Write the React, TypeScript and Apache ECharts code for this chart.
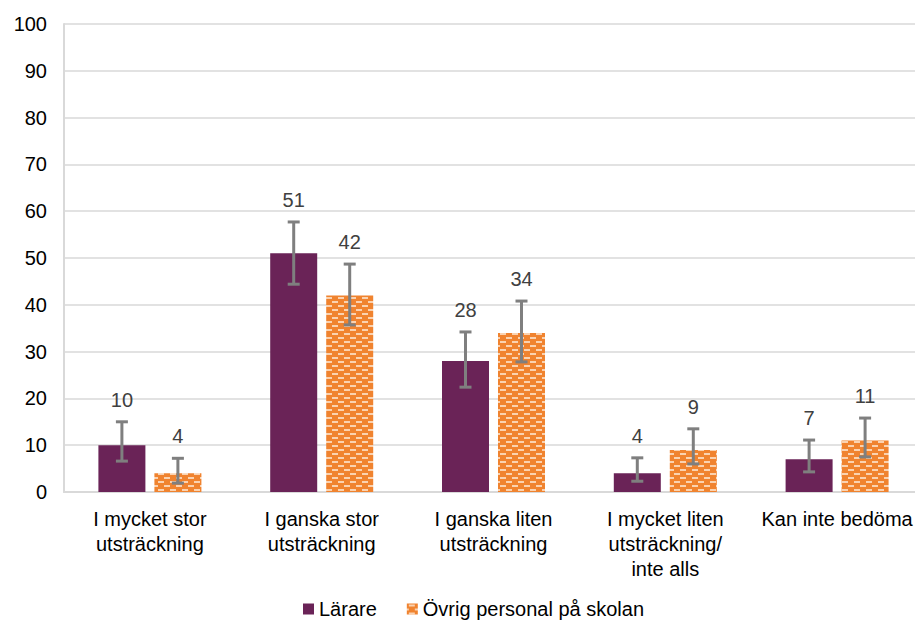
import React, { useEffect, useRef } from "react";
import * as echarts from "echarts";

const categories = [
  "I mycket stor\nutsträckning",
  "I ganska stor\nutsträckning",
  "I ganska liten\nutsträckning",
  "I mycket liten\nutsträckning/\ninte alls",
  "Kan inte bedöma",
];
const seriesNames = ["Lärare", "Övrig personal på skolan"];
const lararValues = [10, 51, 28, 4, 7];
const ovrigValues = [4, 42, 34, 9, 11];
const lararLow = [6.6, 44.4, 22.4, 2.3, 4.3];
const lararHigh = [15, 57.7, 34.2, 7.3, 11.1];
const ovrigLow = [1.9, 35.7, 27.8, 6, 7.5];
const ovrigHigh = [7.2, 48.7, 40.8, 13.5, 15.8];
const yTicks = { min: 0, max: 100, interval: 10 };

const PURPLE = "#6A2357";
const ORANGE = "#F0832F";
const BAR_W = 47;
const BAR_GAP = 9;
const FONT = "Liberation Sans, Arial, sans-serif";

function makePattern(): string {
  const c = document.createElement("canvas");
  c.width = 12;
  c.height = 8;
  const ctx = c.getContext("2d")!;
  ctx.fillStyle = ORANGE;
  ctx.fillRect(0, 0, 12, 8);
  ctx.fillStyle = "#FAD2B0";
  ctx.fillRect(2, 1, 6, 2);
  ctx.fillRect(8, 5, 4, 2);
  ctx.fillRect(0, 5, 2, 2);
  return c.toDataURL();
}

export default function App() {
  const ref = useRef<HTMLDivElement>(null);
  useEffect(() => {
    if (!ref.current) return;
    const chart = echarts.init(ref.current, null, { renderer: "svg" });
    const patternUrl = makePattern();
    const orangeFill: any = { image: patternUrl, repeat: "repeat" };

    const errData: any[] = [];
    categories.forEach((_, i) => {
      errData.push([i, lararLow[i], lararHigh[i], lararValues[i], -1]);
      errData.push([i, ovrigLow[i], ovrigHigh[i], ovrigValues[i], 1]);
    });

    const option: any = {
      animation: false,
      textStyle: { fontFamily: FONT },
      grid: { left: 64, right: 0, top: 24, bottom: 133, containLabel: false },
      legend: {
        top: 597,
        left: 298,
        icon: "rect",
        itemWidth: 11,
        itemHeight: 11,
        itemGap: 30,
        padding: [2, 5],
        textStyle: { fontSize: 20, color: "#000", fontFamily: FONT },
        data: seriesNames,
      },
      xAxis: {
        type: "category",
        data: categories,
        axisLine: { show: true, lineStyle: { color: "#d9d9d9", width: 2 } },
        axisTick: { show: false },
        axisLabel: {
          fontSize: 20,
          color: "#000",
          lineHeight: 25,
          margin: 14,
          interval: 0,
          fontFamily: FONT,
        },
      },
      yAxis: {
        type: "value",
        min: yTicks.min,
        max: yTicks.max,
        interval: yTicks.interval,
        axisLine: { show: true, lineStyle: { color: "#d9d9d9", width: 2 } },
        axisTick: { show: false },
        splitLine: { lineStyle: { color: "#d9d9d9", width: 1.5 } },
        axisLabel: { fontSize: 20, color: "#000", margin: 17, fontFamily: FONT },
      },
      series: [
        {
          name: seriesNames[0],
          type: "bar",
          data: lararValues,
          barWidth: BAR_W,
          barGap: (BAR_GAP / BAR_W) * 100 + "%",
          itemStyle: { color: PURPLE },
        },
        {
          name: seriesNames[1],
          type: "bar",
          data: ovrigValues,
          barWidth: BAR_W,
          itemStyle: { color: orangeFill },
        },
        {
          type: "custom",
          name: "err",
          data: errData,
          z: 10,
          renderItem: (params: any, api: any) => {
            const idx = api.value(0);
            const lo = api.value(1);
            const hi = api.value(2);
            const val = api.value(3);
            const side = api.value(4);
            const off = side * (BAR_W + BAR_GAP) / 2;
            const pLo = api.coord([idx, lo]);
            const pHi = api.coord([idx, hi]);
            const x = pLo[0] + off;
            const cap = 6;
            const st = { stroke: "#7F7F7F", lineWidth: 3 };
            return {
              type: "group",
              children: [
                { type: "line", shape: { x1: x, y1: pLo[1], x2: x, y2: pHi[1] }, style: st },
                { type: "line", shape: { x1: x - cap, y1: pLo[1], x2: x + cap, y2: pLo[1] }, style: st },
                { type: "line", shape: { x1: x - cap, y1: pHi[1], x2: x + cap, y2: pHi[1] }, style: st },
                {
                  type: "text",
                  style: {
                    text: String(val),
                    x: x,
                    y: pHi[1] - 22,
                    align: "center",
                    verticalAlign: "middle",
                    fill: "#404040",
                    fontSize: 20,
                    fontFamily: FONT,
                  },
                },
              ],
            };
          },
        },
      ],
    };
    chart.setOption(option);
    return () => chart.dispose();
  }, []);
  return <div ref={ref} style={{ width: 923, height: 625, marginLeft: -8, marginTop: -8 }} />;
}
